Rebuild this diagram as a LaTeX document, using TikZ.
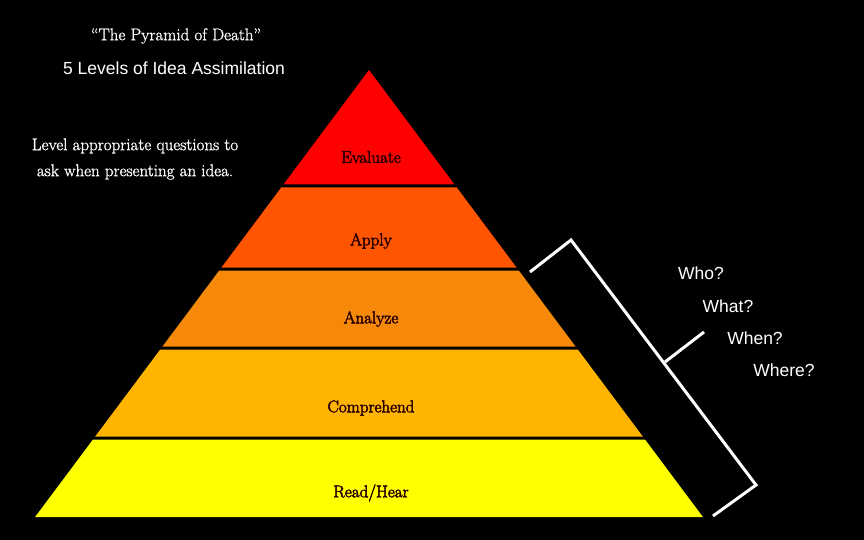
\documentclass[tikz,border=0pt]{standalone}
\usepackage{fontspec}
\usepackage{tikz}
\usetikzlibrary{positioning,calc}
\newfontfamily\arialfont{Liberation Sans}
\newfontfamily\levelfont[FakeBold=3]{Latin Modern Roman}
\newfontfamily\notefont[FakeBold=1.2]{Latin Modern Roman}
\definecolor{evalred}{RGB}{255,0,0}
\definecolor{applyorange}{RGB}{255,85,0}
\definecolor{analyzeorange}{RGB}{247,137,10}
\definecolor{comprehendamber}{RGB}{255,180,0}
\definecolor{readyellow}{RGB}{255,255,0}
\definecolor{labeldark}{RGB}{40,0,0}
\tikzset{
  levellabel/.style={text=labeldark, font=\levelfont\fontsize{17}{20}\selectfont, inner sep=0pt},
  notetext/.style={text=white, font=\notefont\fontsize{17}{21}\selectfont, inner sep=0pt},
  asktext/.style={text=white, font=\arialfont\fontsize{17.5}{21}\selectfont, inner sep=0pt},
  bracketline/.style={draw=white, line width=3pt, line join=miter}
}

\begin{document}
\begin{tikzpicture}[x=1pt,y=-1pt]
\fill[black] (0,0) rectangle (864,540);
\useasboundingbox (0,0) rectangle (864,540);
% pyramid bands: apex (369,70), half-width grows 0.747 per px
\foreach \ytop/\ybot/\col in {70/184.5/evalred, 187.5/267.5/applyorange, 270.5/346.5/analyzeorange, 349.5/436.5/comprehendamber, 439.5/517/readyellow}{
  \pgfmathsetmacro{\wt}{0.747*(\ytop-70)}
  \pgfmathsetmacro{\wb}{0.747*(\ybot-70)}
  \fill[\col] (369-\wt,\ytop) -- (369+\wt,\ytop) -- (369+\wb,\ybot) -- (369-\wb,\ybot) -- cycle;
}
% level names
\node[levellabel] (evaluate) at (371,157) {Evaluate};
\node[levellabel] (apply) at (371,241) {Apply};
\node[levellabel] (analyze) at (371,319) {Analyze};
\node[levellabel] (comprehend) at (371,408) {Comprehend};
\node[levellabel] (readhear) at (371,493) {Read/Hear};
% headings
\node[notetext] (pyrtitle) at (176,36) {“The Pyramid of Death”};
\node[text=white, font=\arialfont\fontsize{17.5}{21}\selectfont, inner sep=0pt] (subtitle) at (174,68) {5 Levels of Idea Assimilation};
\node[notetext, align=center] (note) at (135,159) {Level appropriate questions to\\[5pt] ask when presenting an idea.};
% bracket
\coordinate (brstart) at (530,272);
\coordinate (brtop) at (571,240);
\coordinate (brbot) at (756,485);
\coordinate (brend) at (713,516);
\coordinate (brmid) at (665,362);
\coordinate (brtip) at (704,332);
\draw[bracketline] (brstart) -- (brtop) -- (brbot) -- (brend);
\draw[bracketline] (brmid) -- (brtip);
% questions
\node[asktext] (who) at (701,273) {Who?};
\node[asktext] (what) at (728,306) {What?};
\node[asktext] (when) at (755,338) {When?};
\node[asktext] (where) at (784,370) {Where?};
\end{tikzpicture}
\end{document}
